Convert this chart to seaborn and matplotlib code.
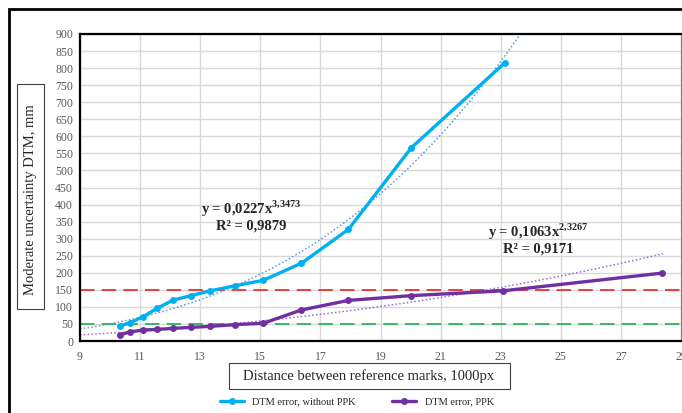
import numpy as np
import pandas as pd
import matplotlib
matplotlib.use("Agg")
import matplotlib.pyplot as plt
import seaborn as sns
from matplotlib.patches import Rectangle
from matplotlib.ticker import MultipleLocator

# distance between reference marks (1000px) and DTM error (mm)
dist_no_ppk = [10.33, 10.67, 11.1, 11.57, 12.1, 12.7, 13.33, 14.17, 15.1, 16.37, 17.93, 20.03, 23.13]
err_no_ppk = [44, 54, 71, 96, 120, 133, 147, 162, 178, 228, 327, 567, 815]
dist_ppk = [10.33, 10.67, 11.1, 11.57, 12.1, 12.7, 13.33, 14.17, 15.1, 16.37, 17.93, 20.03, 23.07, 28.37]
err_ppk = [18, 27, 32, 34, 37, 40, 43, 48, 52, 91, 119, 133, 147, 199]

x_ticks = [9, 11, 13, 15, 17, 19, 21, 23, 25, 27, 29]

label_no_ppk = "DTM error, without PPK"
label_ppk = "DTM error, PPK"
eq_no_ppk = ("0,0227", "3,3473", "0,9879")
eq_ppk = ("0,1063", "2,3267", "0,9171")
limit_red = 150
limit_green = 50

blue = "#00B0F0"
purple = "#7030A0"

df = pd.concat([
    pd.DataFrame({"dist": dist_no_ppk, "err": err_no_ppk, "series": label_no_ppk}),
    pd.DataFrame({"dist": dist_ppk, "err": err_ppk, "series": label_ppk}),
])

sns.set_style("white")
plt.rcParams["font.family"] = ["Liberation Serif", "DejaVu Serif"]
plt.rcParams["mathtext.fontset"] = "custom"
plt.rcParams["mathtext.rm"] = "Liberation Serif"
plt.rcParams["mathtext.bf"] = "Liberation Serif:bold"

fig = plt.figure(figsize=(6.82, 4.13), dpi=100)
ax = fig.add_axes([80 / 682, 1 - 341 / 413, 601 / 682, 307 / 413])

ax.grid(True, which="major", color="#d9d9d9", lw=1.0, zorder=0)
ax.set_axisbelow(True)

# power trendlines fitted in log-log space (as excel does)
xt = np.linspace(9, 28.4, 300)
for xs, ys, c in [(dist_no_ppk, err_no_ppk, "#5B9BD5"), (dist_ppk, err_ppk, "#9E6ACF")]:
    b, a = np.polyfit(np.log(xs), np.log(ys), 1)
    ax.plot(xt, np.exp(a) * xt ** b, color=c, lw=1.1, ls=(0, (1, 1.5)), zorder=2)

ax.axhline(limit_red, color="#EE3030", lw=1.3, ls=(0, (8, 4)), zorder=2)
ax.axhline(limit_green, color="#2DB35A", lw=1.3, ls=(0, (8, 4)), zorder=2)

sns.lineplot(data=df, x="dist", y="err", hue="series", palette=[blue, purple],
             marker="o", markersize=5, markeredgewidth=0, lw=2.4, sort=False,
             ax=ax, zorder=3, legend=False)

ax.set_xlim(9, 29)
ax.set_ylim(0, 900)
ax.set_xticks(x_ticks)
ax.xaxis.set_minor_locator(MultipleLocator(1))
ax.yaxis.set_major_locator(MultipleLocator(50))
ax.tick_params(axis="both", which="both", direction="out", labelsize=8.5,
               labelcolor="#595959", color="black")
ax.tick_params(axis="x", which="major", length=4, width=1, pad=3)
ax.tick_params(axis="x", which="minor", length=3, width=1)
ax.tick_params(axis="y", length=3, width=1, pad=2)
ax.set_xlabel("")
ax.set_ylabel("")

for s in ["left", "bottom", "top"]:
    ax.spines[s].set_color("black")
    ax.spines[s].set_linewidth(1.6)
ax.spines["right"].set_color("#808080")
ax.spines["right"].set_linewidth(0.8)

# equations
for (k, p, r2), (cx, cy) in [(eq_no_ppk, (251, 209)), (eq_ppk, (538, 232))]:
    fig.text(cx / 682, 1 - cy / 413, r"y = %sx$^{\mathbf{%s}}$" % (k, p.replace(",", "{,}")),
             ha="center", va="center", fontsize=10.5, fontweight="bold")
    fig.text(cx / 682, 1 - (cy + 17) / 413, "R² = %s" % r2,
             ha="center", va="center", fontsize=10.5, fontweight="bold")

# axis titles in boxes
fig.text(369 / 682, 1 - 376 / 413, "Distance between reference marks, 1000px",
         ha="center", va="center", fontsize=10.5)
fig.patches.append(Rectangle((229 / 682, 1 - 389 / 413), 281 / 682, 26 / 413,
                             transform=fig.transFigure, fill=False, ec="#404040", lw=0.8))
fig.text(30.5 / 682, 1 - 200 / 413, "Moderate uncertainty DTM, mm", rotation=90,
         ha="center", va="center", fontsize=10.5)
fig.patches.append(Rectangle((17 / 682, 1 - 309 / 413), 27 / 682, 225 / 413,
                             transform=fig.transFigure, fill=False, ec="#404040", lw=0.8))

# legend
handles = [plt.Line2D([], [], color=blue, lw=2.4, marker="o", markersize=4),
           plt.Line2D([], [], color=purple, lw=2.4, marker="o", markersize=4)]
fig.legend(handles, [label_no_ppk, label_ppk], loc="center", ncol=2,
           bbox_to_anchor=(357 / 682, 1 - 402 / 413), frameon=False, fontsize=7.5,
           handlelength=2.3, columnspacing=3.5)

# outer chart frame
fig.patches.append(Rectangle((9 / 682, -0.1), 2, 1.1 - 9 / 413, transform=fig.transFigure,
                             fill=False, ec="black", lw=2))

fig.savefig("out.png", dpi=100)
